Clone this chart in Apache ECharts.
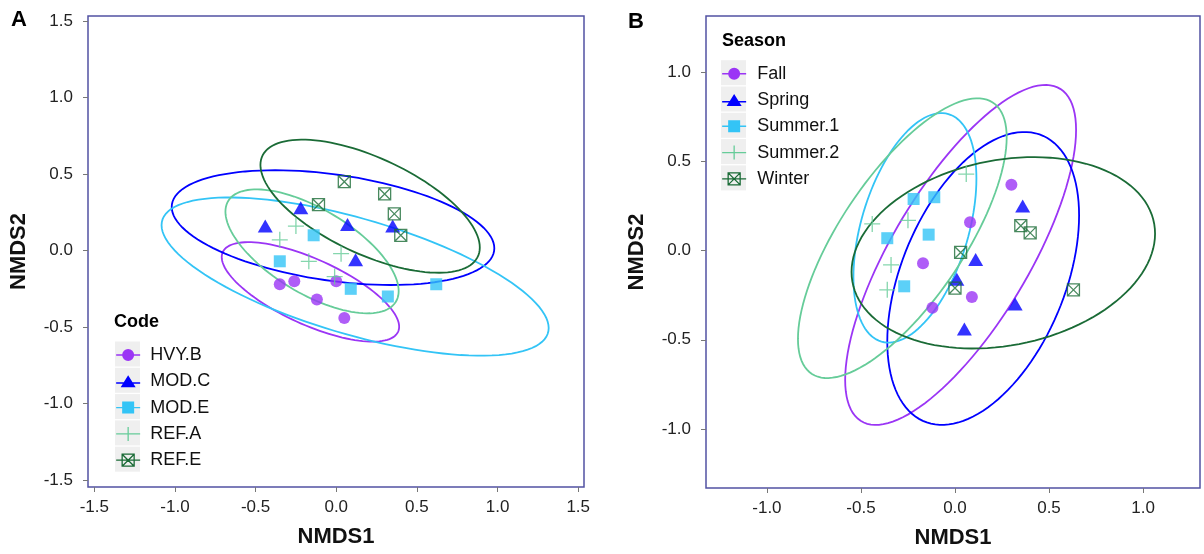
<!DOCTYPE html>
<html>
<head>
<meta charset="utf-8">
<script src="https://cdn.jsdelivr.net/npm/echarts@6/dist/echarts.min.js"></script>
<style>
  html, body { margin: 0; padding: 0; background: #fff; }
  #chart { width: 1204px; height: 554px; }
</style>
</head>
<body>
<div id="chart"></div>
<script>
var chart = echarts.init(document.getElementById('chart'));

// groups
var codeNames = ['HVY.B', 'MOD.C', 'MOD.E', 'REF.A', 'REF.E'];
var seasonNames = ['Fall', 'Spring', 'Summer.1', 'Summer.2', 'Winter'];

// tick labels
var ticksA = [-1.5, -1.0, -0.5, 0.0, 0.5, 1.0, 1.5];
var ticksB = [-1.0, -0.5, 0.0, 0.5, 1.0];

// panel A sites [NMDS1, NMDS2]
var hvyB = [[-0.35, -0.22], [-0.26, -0.20], [-0.12, -0.32], [0.00, -0.20], [0.05, -0.44]];
var modC = [[-0.44, 0.16], [-0.22, 0.28], [0.07, 0.17], [0.35, 0.16], [0.12, -0.06]];
var modE = [[-0.35, -0.07], [-0.14, 0.10], [0.09, -0.25], [0.32, -0.30], [0.62, -0.22]];
var refA = [[-0.35, 0.07], [-0.25, 0.16], [-0.17, -0.07], [0.03, -0.02], [-0.01, -0.17]];
var refE = [[0.05, 0.45], [0.30, 0.37], [0.36, 0.24], [0.40, 0.10], [-0.11, 0.30]];

// panel B sites [NMDS1, NMDS2]
var fall = [[0.30, 0.37], [0.08, 0.16], [-0.17, -0.07], [0.09, -0.26], [-0.12, -0.32]];
var spring = [[0.36, 0.25], [0.11, -0.05], [0.01, -0.16], [0.32, -0.30], [0.05, -0.44]];
var summer1 = [[-0.22, 0.29], [-0.11, 0.30], [-0.36, 0.07], [-0.14, 0.09], [-0.27, -0.20]];
var summer2 = [[0.06, 0.43], [-0.44, 0.15], [-0.25, 0.17], [-0.34, -0.08], [-0.36, -0.22]];
var winter = [[0.35, 0.14], [0.40, 0.10], [0.03, -0.01], [0.00, -0.21], [0.63, -0.22]];

// ellipses [centre x, centre y, half width x, half height y, correlation]
var ellipsesA = [
    [-0.16, -0.27, 0.55, 0.325, -0.70],
    [-0.02, 0.15, 1.00, 0.375, -0.36],
    [0.117, -0.17, 1.20, 0.517, -0.65],
    [-0.15, -0.005, 0.537, 0.405, -0.64],
    [0.21, 0.29, 0.68, 0.435, -0.62]
];
var ellipsesB = [
    [0.03, -0.024, 0.614, 0.954, 0.735],
    [0.15, -0.156, 0.51, 0.822, 0.43],
    [-0.213, 0.128, 0.327, 0.644, 0.43],
    [-0.28, 0.07, 0.555, 0.785, 0.72],
    [0.257, -0.012, 0.807, 0.537, 0.20]
];

var pointsA = [hvyB, modC, modE, refA, refE];
var pointsB = [fall, spring, summer1, summer2, winter];

// styles per group (same order in both panels)
var colors = ['#9b35f5', '#0000ff', '#33c4f6', '#66cc99', '#1a6b36'];
var symbols = ['circle', 'triangle', 'rect', 'path://M0,5H10M5,0V10', 'path://M0,0H10V10H0ZM0,0L10,10M10,0L0,10'];
var symbolSizes = [12, [15, 13], 12, 16, 12];
var hollow = [false, false, false, true, true];
var legendIcons = [
    'path://M0,6.3H24V7.7H0Z M12,1A6,6 0 1 1 11.99,1Z',
    'path://M0,8H24V9.4H0Z M12,1L19.5,13H4.5Z',
    'path://M0,6.3H24V7.7H0Z M6,1H18V13H6Z',
    'path://M0,7H24 M12,0V14',
    'path://M0,7H24 M6,1H18V13H6Z M6,1L18,13 M18,1L6,13'
];

function renderEllipse(params, api) {
    var cx = api.value(0), cy = api.value(1), wx = api.value(2), wy = api.value(3), r = api.value(4);
    var s = Math.sqrt(1 - r * r);
    var pts = [];
    for (var k = 0; k < 120; k++) {
        var t = k / 120 * Math.PI * 2;
        pts.push(api.coord([cx + wx * Math.cos(t), cy + wy * (r * Math.cos(t) + s * Math.sin(t))]));
    }
    return {
        type: 'polygon',
        shape: { points: pts },
        style: { fill: 'none', stroke: api.visual('color'), lineWidth: 1.8 }
    };
}

function pointStyle(i) {
    if (hollow[i]) {
        return { color: 'rgba(255,255,255,0)', borderColor: colors[i], borderWidth: 1.3 };
    }
    return { color: colors[i] };
}

var series = [];
function addPanel(names, points, ellipses, axisIndex) {
    for (var i = 0; i < names.length; i++) {
        series.push({
            name: names[i],
            type: 'custom',
            xAxisIndex: axisIndex,
            yAxisIndex: axisIndex,
            renderItem: renderEllipse,
            itemStyle: { color: colors[i] },
            data: [ellipses[i]],
            z: 2
        });
    }
    for (var j = 0; j < names.length; j++) {
        series.push({
            name: names[j],
            type: 'scatter',
            xAxisIndex: axisIndex,
            yAxisIndex: axisIndex,
            symbol: symbols[j],
            symbolSize: symbolSizes[j],
            itemStyle: pointStyle(j),
            data: points[j],
            z: 3
        });
    }
}
addPanel(codeNames, pointsA, ellipsesA, 0);
addPanel(seasonNames, pointsB, ellipsesB, 1);

function legendData(names) {
    return names.map(function (n, i) {
        var st = hollow[i]
            ? { color: 'rgba(255,255,255,0)', borderColor: colors[i], borderWidth: 1.3 }
            : { color: colors[i], borderWidth: 0 };
        return { name: n, icon: legendIcons[i], itemStyle: st };
    });
}

var rowPitch = 26.3;
function legendBoxes(x, firstCenter, n) {
    var out = [];
    for (var i = 0; i < n; i++) {
        out.push({
            type: 'rect',
            shape: { x: x, y: firstCenter + i * rowPitch - 12.5, width: 25, height: 25 },
            style: { fill: '#efefef' },
            z: 1
        });
    }
    return out;
}

var tickFmt = function (v) { return v.toFixed(1); };
var labelStyle = { fontFamily: 'Liberation Sans, Arial, sans-serif', fontSize: 17, color: '#222' };
var nameStyle = { fontFamily: 'Liberation Sans, Arial, sans-serif', fontSize: 22, fontWeight: 'bold', color: '#111' };

function makeAxis(kind, idx, min, max, ticks) {
    return {
        type: 'value',
        gridIndex: idx,
        min: min,
        max: max,
        name: kind === 'x' ? 'NMDS1' : 'NMDS2',
        nameLocation: 'middle',
        nameGap: kind === 'x' ? 39 : 58,
        nameTextStyle: nameStyle,
        splitLine: { show: false },
        axisLine: { show: false, onZero: false },
        axisTick: { show: true, length: 5, customValues: ticks, lineStyle: { color: '#777' } },
        axisLabel: Object.assign({ customValues: ticks, formatter: tickFmt, margin: kind === 'x' ? 12 : 15 }, labelStyle)
    };
}

var legendText = { fontFamily: 'Liberation Sans, Arial', fontSize: 18, color: '#111' };

var option = {
    animation: false,
    backgroundColor: '#fff',
    title: [
        { text: 'A', left: 11, top: 9, padding: 0, textStyle: { fontFamily: 'Liberation Sans, Arial', fontSize: 22, fontWeight: 'bold', color: '#000' } },
        { text: 'B', left: 628, top: 11, padding: 0, textStyle: { fontFamily: 'Liberation Sans, Arial', fontSize: 22, fontWeight: 'bold', color: '#000' } },
        { text: 'Code', left: 114, top: 313, padding: 0, textStyle: { fontFamily: 'Liberation Sans, Arial', fontSize: 18, fontWeight: 'bold', color: '#000' } },
        { text: 'Season', left: 722, top: 32, padding: 0, textStyle: { fontFamily: 'Liberation Sans, Arial', fontSize: 18, fontWeight: 'bold', color: '#000' } }
    ],
    grid: [
        { left: 88, top: 16, width: 496, height: 471, show: true, borderColor: '#5252a3', borderWidth: 1.5, backgroundColor: 'rgba(0,0,0,0)' },
        { left: 706, top: 16, width: 494, height: 472, show: true, borderColor: '#5252a3', borderWidth: 1.5, backgroundColor: 'rgba(0,0,0,0)' }
    ],
    xAxis: [
        makeAxis('x', 0, -1.539, 1.536, ticksA),
        makeAxis('x', 1, -1.324, 1.303, ticksB)
    ],
    yAxis: [
        makeAxis('y', 0, -1.545, 1.533, ticksA),
        makeAxis('y', 1, -1.332, 1.317, ticksB)
    ],
    legend: [
        {
            orient: 'vertical', left: 115.5, top: 346, padding: 0,
            itemWidth: 24, itemHeight: 14, itemGap: rowPitch - 18,
            selectedMode: false,
            textStyle: Object.assign({ padding: [0, 0, 0, 5] }, legendText),
            data: legendData(codeNames)
        },
        {
            orient: 'vertical', left: 721.5, top: 64.7, padding: 0,
            itemWidth: 24, itemHeight: 14, itemGap: rowPitch - 18,
            selectedMode: false,
            textStyle: Object.assign({ padding: [0, 0, 0, 6] }, legendText),
            data: legendData(seasonNames)
        }
    ],
    graphic: legendBoxes(115, 354, codeNames.length).concat(legendBoxes(721, 72.7, seasonNames.length)),
    series: series
};

chart.setOption(option);
</script>
</body>
</html>
